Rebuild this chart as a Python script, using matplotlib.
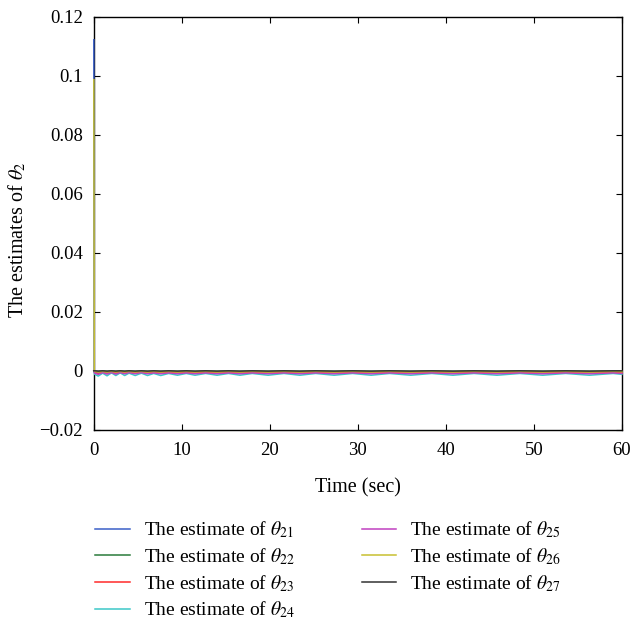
import matplotlib
matplotlib.use("Agg")
import matplotlib.pyplot as plt

plt.rcParams['font.family'] = ['Liberation Serif', 'DejaVu Serif']
plt.rcParams['mathtext.fontset'] = 'stix'

# time samples (sec)
t = [0, 0.05, 0.1, 0.5, 1.0, 1.5, 2.0, 2.5, 3.0, 3.5, 4.0, 4.7, 5.4, 6.1, 6.8,
     7.6, 8.5, 9.5, 10.5, 11.5, 12.7, 14.0, 15.3, 16.6, 18.0, 19.8, 21.6, 23.4,
     25.2, 27.3, 29.4, 31.5, 33.6, 36.0, 38.4, 40.8, 43.2, 45.8, 48.4, 51.0,
     53.6, 56.3, 59.0, 60]

# estimates
theta21 = [0.1122, 0.0, -0.0004, -0.0006, -0.0003, -0.0006, -0.0003, -0.0005,
           -0.0003, -0.0005, -0.0003, -0.0005, -0.0003, -0.0005, -0.0003,
           -0.0005, -0.0003, -0.0005, -0.0003, -0.0005, -0.0003, -0.0005,
           -0.0003, -0.0005, -0.0003, -0.0005, -0.0003, -0.0005, -0.0003,
           -0.0005, -0.0003, -0.0005, -0.0003, -0.0005, -0.0003, -0.0005,
           -0.0003, -0.0005, -0.0003, -0.0005, -0.0003, -0.0005, -0.0003, -0.0004]
theta22 = [0.0, 0.0, -0.0001, -0.0002, -0.0001, -0.0002, -0.0001, -0.0002,
           -0.0001, -0.0002, -0.0001, -0.0002, -0.0001, -0.0002, -0.0001,
           -0.0002, -0.0001, -0.0002, -0.0001, -0.0002, -0.0001, -0.0002,
           -0.0001, -0.0002, -0.0001, -0.0002, -0.0001, -0.0002, -0.0001,
           -0.0002, -0.0001, -0.0002, -0.0001, -0.0002, -0.0001, -0.0002,
           -0.0001, -0.0002, -0.0001, -0.0002, -0.0001, -0.0002, -0.0001, -0.0001]
theta23 = [0.0, -0.0003, -0.0006, -0.0009, -0.0005, -0.0009, -0.0005, -0.0008,
           -0.0005, -0.0008, -0.0005, -0.0008, -0.0005, -0.0008, -0.0005,
           -0.0008, -0.0005, -0.0008, -0.0005, -0.0008, -0.0005, -0.0008,
           -0.0006, -0.0008, -0.0006, -0.0008, -0.0006, -0.0008, -0.0006,
           -0.0008, -0.0006, -0.0008, -0.0006, -0.0008, -0.0006, -0.0008,
           -0.0006, -0.0008, -0.0006, -0.0008, -0.0006, -0.0008, -0.0006, -0.0007]
theta24 = [0.0, -0.0005, -0.0012, -0.0018, -0.0008, -0.0017, -0.0007, -0.0016,
           -0.0007, -0.0016, -0.0008, -0.0016, -0.0008, -0.0016, -0.0009,
           -0.0016, -0.0009, -0.0015, -0.0009, -0.0015, -0.0009, -0.0015,
           -0.0009, -0.0015, -0.0009, -0.0015, -0.0009, -0.0015, -0.0009,
           -0.0015, -0.0009, -0.0015, -0.0009, -0.0015, -0.0009, -0.0015,
           -0.0009, -0.0015, -0.0009, -0.0015, -0.0009, -0.0015, -0.0009, -0.0012]
theta25 = [0.0, -0.0004, -0.0008, -0.0012, -0.0006, -0.0011, -0.0006, -0.0011,
           -0.0006, -0.0010, -0.0006, -0.0010, -0.0006, -0.0010, -0.0007,
           -0.0010, -0.0007, -0.0010, -0.0007, -0.0010, -0.0007, -0.0010,
           -0.0007, -0.0010, -0.0007, -0.0010, -0.0007, -0.0010, -0.0007,
           -0.0010, -0.0007, -0.0010, -0.0007, -0.0010, -0.0007, -0.0010,
           -0.0007, -0.0010, -0.0007, -0.0010, -0.0007, -0.0010, -0.0007, -0.0009]
theta26 = [0.0987, 0.0, -0.0002, -0.0004, -0.0002, -0.0004, -0.0002, -0.0004,
           -0.0002, -0.0004, -0.0002, -0.0004, -0.0002, -0.0004, -0.0002,
           -0.0004, -0.0002, -0.0004, -0.0002, -0.0004, -0.0002, -0.0004,
           -0.0002, -0.0004, -0.0002, -0.0004, -0.0002, -0.0004, -0.0002,
           -0.0004, -0.0002, -0.0004, -0.0002, -0.0004, -0.0002, -0.0004,
           -0.0002, -0.0004, -0.0002, -0.0004, -0.0002, -0.0004, -0.0002, -0.0003]
theta27 = [0.0, 0.0, 0.0, -0.0001, 0.0, -0.0001, 0.0, -0.0001, 0.0, -0.0001,
           0.0, -0.0001, 0.0, -0.0001, 0.0, -0.0001, 0.0, -0.0001, 0.0, -0.0001,
           0.0, -0.0001, 0.0, -0.0001, 0.0, -0.0001, 0.0, -0.0001, 0.0, -0.0001,
           0.0, -0.0001, 0.0, -0.0001, 0.0, -0.0001, 0.0, -0.0001, 0.0, -0.0001,
           0.0, -0.0001, 0.0, 0.0]

series = [theta21, theta22, theta23, theta24, theta25, theta26, theta27]
names = ['21', '22', '23', '24', '25', '26', '27']
colors = ['#3a5fc8', '#2a7a3a', '#ff2a2a', '#3cc8c8', '#c040c0', '#c8c030', '#333333']

fig = plt.figure(figsize=(6.34, 6.22), dpi=100)
ax = fig.add_axes([0.148, 0.309, 0.833, 0.664])

for y, n, c in zip(series, names, colors):
    # lines drawn over the spines so the spike at t=0 shows
    ax.plot(t, y, color=c, lw=1.1, zorder=3, clip_on=False,
            label=r'The estimate of $\theta_{%s}$' % n)

ax.set_xlim(0, 60)
ax.set_ylim(-0.02, 0.12)
ax.set_xticks([0, 10, 20, 30, 40, 50, 60])
ax.set_yticks([-0.02, 0, 0.02, 0.04, 0.06, 0.08, 0.1, 0.12])
ax.set_yticklabels(['\u22120.02', '0', '0.02', '0.04', '0.06', '0.08', '0.1', '0.12'])
ax.tick_params(direction='in', top=True, right=True, length=4, labelsize=13.5)
ax.tick_params(axis='x', pad=9)
ax.tick_params(axis='y', pad=8)
for s in ax.spines.values():
    s.set_linewidth(1.0)

ax.set_xlabel('Time (sec)', fontsize=14.5)
ax.set_ylabel(r'The estimates of $\theta_2$', fontsize=14.5)
ax.xaxis.set_label_coords(0.5, -0.118)
ax.yaxis.set_label_coords(-0.125, 0.46)

fig.legend(loc='upper left', bbox_to_anchor=(0.123, 0.193), ncol=2,
           frameon=False, fontsize=14, handlelength=1.75, columnspacing=3.5,
           labelspacing=0.31, handletextpad=0.72)

fig.savefig('out.png', dpi=100)
